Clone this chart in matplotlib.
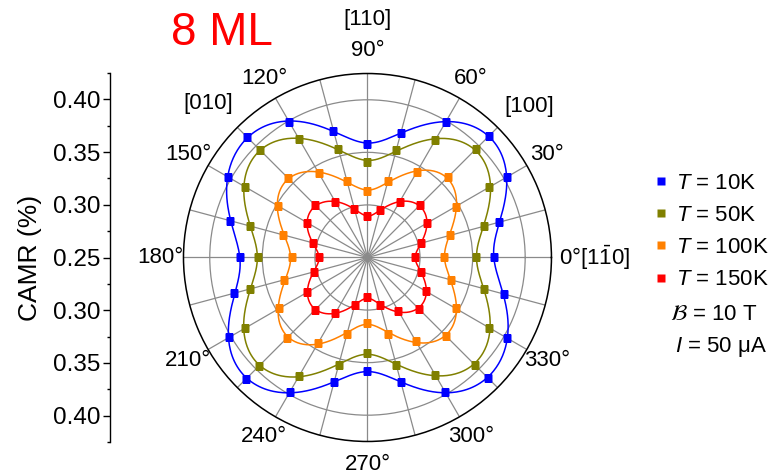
import numpy as np
import matplotlib.pyplot as plt
from matplotlib.ticker import MultipleLocator, FixedLocator, FixedFormatter

plt.rcParams['font.family'] = ['Liberation Sans', 'DejaVu Sans']
plt.rcParams['mathtext.fontset'] = 'custom'
plt.rcParams['mathtext.rm'] = 'Liberation Sans'
plt.rcParams['mathtext.it'] = 'Liberation Sans:italic'

# 数据: 角度 (deg) 与 CAMR (%)
angles_deg = np.arange(0, 360, 15)
camr_10K = [0.370, 0.380, 0.403, 0.413, 0.399, 0.373, 0.358, 0.375, 0.399, 0.412, 0.403, 0.385,
            0.371, 0.381, 0.402, 0.413, 0.398, 0.373, 0.358, 0.373, 0.398, 0.412, 0.403, 0.384]
camr_50K = [0.353, 0.365, 0.384, 0.396, 0.379, 0.356, 0.341, 0.357, 0.380, 0.395, 0.385, 0.366,
            0.354, 0.366, 0.385, 0.396, 0.380, 0.356, 0.341, 0.356, 0.379, 0.394, 0.384, 0.365]
camr_100K = [0.323, 0.331, 0.347, 0.358, 0.344, 0.325, 0.313, 0.325, 0.343, 0.357, 0.348, 0.333,
             0.322, 0.332, 0.347, 0.358, 0.344, 0.325, 0.312, 0.325, 0.342, 0.356, 0.347, 0.332]
camr_150K = [0.295, 0.303, 0.315, 0.320, 0.311, 0.297, 0.289, 0.298, 0.311, 0.320, 0.316, 0.304,
             0.296, 0.303, 0.316, 0.320, 0.311, 0.297, 0.288, 0.297, 0.309, 0.319, 0.314, 0.303]
labels = [r'$T$ = 10K', r'$T$ = 50K', r'$T$ = 100K', r'$T$ = 150K']
colors = ['#0000ff', '#808000', '#ff8000', '#ff0000']
angle_labels = [f'{a}°' for a in range(30, 360, 30)]
axis_names = {90: '[110]', 136: '[010]', 43: '[100]'}

r_min, r_max = 0.25, 0.425


def fourier_fit(theta, r, order=8):
    # 最小二乘傅里叶拟合, 用于画平滑曲线
    def basis(t):
        cols = [np.ones_like(t)]
        for n in range(1, order + 1):
            cols += [np.cos(n * t), np.sin(n * t)]
        return np.stack(cols, axis=1)
    coef, *_ = np.linalg.lstsq(basis(theta), r, rcond=None)
    tt = np.linspace(0, 2 * np.pi, 721)
    return tt, basis(tt) @ coef


def r_at(px):
    # 像素距离 -> 半径坐标 (外圈半径约 184 px)
    return r_min + px / 184 * (r_max - r_min)


fig = plt.figure(figsize=(7.69, 4.76), dpi=100)
ax = fig.add_axes([0.2386, 0.0725, 0.4785, 0.7731], projection='polar')

theta = np.deg2rad(angles_deg)
handles = []
for data, c, lab in zip([camr_10K, camr_50K, camr_100K, camr_150K], colors, labels):
    r = np.asarray(data)
    tt, rr = fourier_fit(theta, r)
    ax.plot(tt, rr, color=c, lw=1.1, zorder=3)
    h, = ax.plot(theta, r, 's', color=c, ms=5.2, mec='none', zorder=4, label=lab)
    handles.append(h)

ax.set_ylim(r_min, r_max)
ax.set_rgrids([0.30, 0.35, 0.40], labels=['', '', ''])
ax.set_thetagrids(angles_deg, labels=['' for _ in angles_deg])
ax.grid(True, color='#8a8a8a', lw=0.9)
ax.spines['polar'].set_linewidth(1.1)
ax.spines['polar'].set_color('black')

# 角度标注
for a, s in zip(range(30, 360, 30), angle_labels):
    ax.text(np.deg2rad(a), r_at(207), s, fontsize=16, ha='center', va='center', clip_on=False)
ax.text(0, r_at(191.5), r'0°[1$\bar{1}$0]', fontsize=16,
        ha='left', va='center', clip_on=False)
ax.text(np.deg2rad(90), r_at(238), axis_names[90], fontsize=16,
        ha='center', va='center', clip_on=False)
for a in (43, 136):
    ax.text(np.deg2rad(a), r_at(221), axis_names[a], fontsize=16,
            ha='center', va='center', clip_on=False)

fig.text(222 / 769, 1 - 33 / 476, '8 ML', fontsize=33, color='red', ha='center', va='center')

# 左侧 CAMR 坐标轴
ax2 = fig.add_axes([0.143, 0.0714, 0.0001, 0.7752])
ax2.set_ylim(-(r_max - r_min), r_max - r_min)
for s in ['right', 'top', 'bottom']:
    ax2.spines[s].set_visible(False)
ax2.spines['left'].set_linewidth(1.0)
ax2.set_xticks([])
yt = np.array([-0.15, -0.10, -0.05, 0.0, 0.05, 0.10, 0.15])
ax2.yaxis.set_major_locator(FixedLocator(yt))
ax2.yaxis.set_major_formatter(FixedFormatter([f'{abs(v) + r_min:.2f}' for v in yt]))
ax2.yaxis.set_minor_locator(MultipleLocator(0.025))
ax2.tick_params(axis='y', which='major', length=5, width=1.0, labelsize=17.5, pad=2)
ax2.tick_params(axis='y', which='minor', length=2.5, width=1.0)
ax2.set_ylabel('CAMR (%)', fontsize=19, labelpad=8)

# 图例
fig.legend(handles=handles, loc='upper left', bbox_to_anchor=(654 / 769, 1 - 173 / 476),
           frameon=False, fontsize=16, handlelength=0.6, handletextpad=0.4,
           labelspacing=0.5, borderaxespad=0, borderpad=0, markerscale=1.0)
fig.text(670 / 769, 1 - 315 / 476, r'$\mathcal{B}$ = 10 T', fontsize=16, ha='left',
         va='center', math_fontfamily='stix')
fig.text(675 / 769, 1 - 347 / 476, r'$I$ = 50 μA', fontsize=16, ha='left', va='center')

fig.savefig('out.png', dpi=100)
